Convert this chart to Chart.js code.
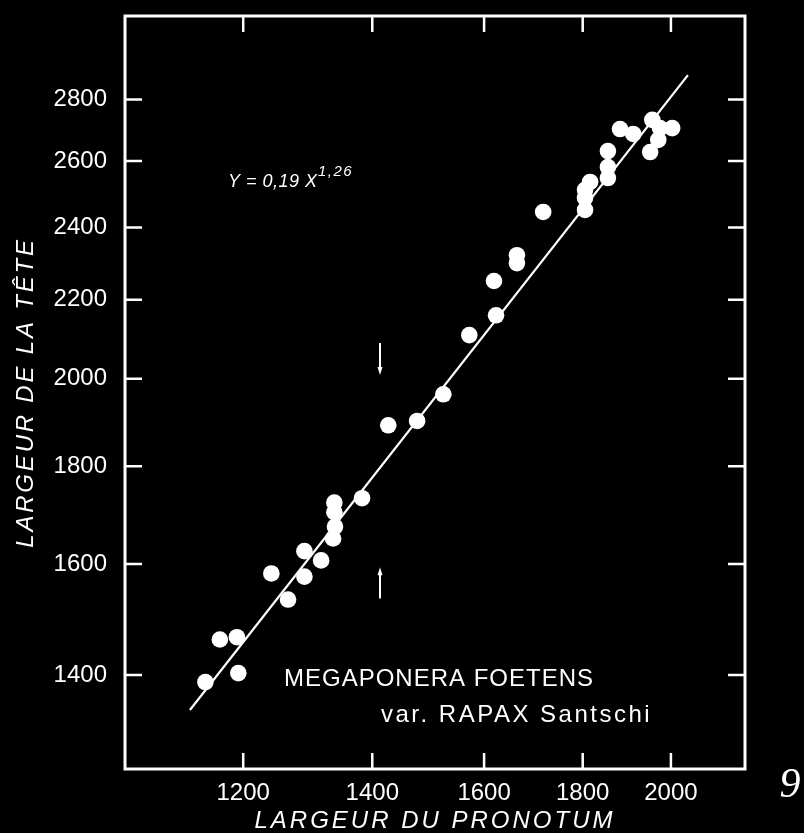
<!DOCTYPE html>
<html>
<head>
    <title>Megaponera foetens</title>
    <script src="https://cdn.jsdelivr.net/npm/chart.js"></script>
    <style>
        body { margin: 0; background: #000; }
        #wrap { position: relative; width: 804px; height: 833px; }
    </style>
</head>
<body>
    <div id="wrap"><canvas id="myChart"></canvas></div>
    <script>
        // largeur du pronotum (x) and largeur de la tete (y)
        const pronotum = [1147, 1167, 1191, 1193, 1266, 1241, 1291, 1317, 1291, 1336,
                          1339, 1338, 1338, 1383, 1427, 1477, 1524, 1572, 1623, 1619,
                          1664, 1664, 1717, 1805, 1805, 1805, 1816, 1855, 1855, 1855,
                          1882, 1912, 1956, 2003, 1970, 1951, 1974];
        const tete = [1388, 1461, 1465, 1403, 1533, 1582, 1576, 1607, 1625, 1650,
                      1674, 1703, 1723, 1732, 1891, 1901, 1963, 2108, 2159, 2250,
                      2299, 2321, 2445, 2451, 2487, 2511, 2535, 2547, 2581, 2631,
                      2702, 2686, 2732, 2705, 2667, 2628, 2705];

        // ends of the drawn regression line
        const fitX = [1126, 2041];
        const fitY = [1342, 2883];

        const xTicks = [1200, 1400, 1600, 1800, 2000];
        const yTicks = [1400, 1600, 1800, 2000, 2200, 2400, 2600, 2800];

        // the two little arrows
        const arrowX = 1413;
        const arrowDown = [2088, 2009];
        const arrowUp = [1535, 1594];

        const FONT = "'Liberation Sans', Arial, sans-serif";
        Chart.defaults.font.family = FONT;
        Chart.defaults.color = '#fff';

        function drawArrow(ctx, x, y0, y1) {
            const dir = y1 > y0 ? 1 : -1;
            ctx.beginPath();
            ctx.moveTo(x, y0);
            ctx.lineTo(x, y1 - dir * 6);
            ctx.stroke();
            ctx.beginPath();
            ctx.moveTo(x, y1);
            ctx.lineTo(x - 2.5, y1 - dir * 8);
            ctx.lineTo(x + 2.5, y1 - dir * 8);
            ctx.closePath();
            ctx.fill();
        }

        function spacedText(ctx, text, x, y, font, spacing, align) {
            ctx.font = font;
            ctx.letterSpacing = spacing + 'px';
            ctx.textAlign = align;
            ctx.textBaseline = 'middle';
            ctx.fillText(text, x, y);
            ctx.letterSpacing = '0px';
        }

        const framePlugin = {
            id: 'frame',
            beforeDraw(chart) {
                const ctx = chart.ctx;
                ctx.save();
                ctx.fillStyle = '#000';
                ctx.fillRect(0, 0, chart.width, chart.height);
                ctx.restore();
            },
            afterDraw(chart) {
                const ctx = chart.ctx;
                const a = chart.chartArea;
                const xs = chart.scales.x, ys = chart.scales.y;
                ctx.save();
                ctx.strokeStyle = '#fff';
                ctx.fillStyle = '#fff';

                ctx.lineWidth = 3;
                ctx.strokeRect(a.left, a.top, a.right - a.left, a.bottom - a.top);

                // inward ticks on all four sides
                ctx.lineWidth = 2.5;
                xTicks.forEach(v => {
                    const px = xs.getPixelForValue(v);
                    ctx.beginPath();
                    ctx.moveTo(px, a.bottom); ctx.lineTo(px, a.bottom - 16);
                    ctx.moveTo(px, a.top); ctx.lineTo(px, a.top + 16);
                    ctx.stroke();
                });
                yTicks.forEach(v => {
                    const py = ys.getPixelForValue(v);
                    ctx.beginPath();
                    ctx.moveTo(a.left, py); ctx.lineTo(a.left + 17, py);
                    ctx.moveTo(a.right, py); ctx.lineTo(a.right - 17, py);
                    ctx.stroke();
                });

                // arrows
                ctx.lineWidth = 2;
                const ax = xs.getPixelForValue(arrowX);
                drawArrow(ctx, ax, ys.getPixelForValue(arrowDown[0]), ys.getPixelForValue(arrowDown[1]));
                drawArrow(ctx, ax, ys.getPixelForValue(arrowUp[0]), ys.getPixelForValue(arrowUp[1]));

                // texts
                spacedText(ctx, 'Y = 0,19 X', 228, 182, 'italic 18px ' + FONT, 0.5, 'left');
                spacedText(ctx, '1,26', 318, 172, 'italic 15px ' + FONT, 1.5, 'left');
                spacedText(ctx, 'MEGAPONERA FOETENS', 284, 679, '24px ' + FONT, 1, 'left');
                spacedText(ctx, 'var. RAPAX Santschi', 381, 715, '24px ' + FONT, 2.5, 'left');

                spacedText(ctx, 'LARGEUR DU PRONOTUM', (a.left + a.right) / 2, 821, 'italic 24px ' + FONT, 3, 'center');
                ctx.save();
                ctx.translate(26, (a.top + a.bottom) / 2);
                ctx.rotate(-Math.PI / 2);
                spacedText(ctx, 'LARGEUR DE LA TÊTE', 0, 0, 'italic 24px ' + FONT, 2.8, 'center');
                ctx.restore();

                spacedText(ctx, '9', 790, 786, "italic 42px 'Liberation Serif', serif", 0, 'center');
                ctx.restore();
            }
        };

        const ctx = document.getElementById('myChart').getContext('2d');
        new Chart(ctx, {
            type: 'scatter',
            data: {
                datasets: [{
                    label: 'ajustement',
                    data: fitX.map((x, i) => ({ x: x, y: fitY[i] })),
                    showLine: true,
                    borderColor: '#fff',
                    borderWidth: 2.2,
                    pointRadius: 0
                }, {
                    label: 'individus',
                    data: pronotum.map((x, i) => ({ x: x, y: tete[i] })),
                    backgroundColor: '#fff',
                    borderColor: '#fff',
                    borderWidth: 0,
                    pointRadius: 8.3
                }]
            },
            options: {
                responsive: true,
                maintainAspectRatio: false,
                animation: false,
                layout: { padding: { top: 16, right: 59, bottom: 0, left: 0 } },
                plugins: { legend: { display: false }, tooltip: { enabled: false } },
                scales: {
                    x: {
                        type: 'logarithmic',
                        min: 1042,
                        max: 2185,
                        bounds: 'data',
                        grid: { display: false, drawTicks: false },
                        border: { display: false },
                        ticks: {
                            padding: 10,
                            autoSkip: false,
                            maxRotation: 0,
                            font: { size: 24 },
                            callback: v => String(v)
                        },
                        afterBuildTicks: s => { s.ticks = xTicks.map(v => ({ value: v })); },
                        afterFit: s => { s.height = 64; s.paddingLeft = 0; s.paddingRight = 0; }
                    },
                    y: {
                        type: 'logarithmic',
                        min: 1250,
                        max: 3096,
                        bounds: 'data',
                        grid: { display: false, drawTicks: false },
                        border: { display: false },
                        ticks: {
                            padding: 18,
                            autoSkip: false,
                            font: { size: 24 },
                            callback: v => String(v)
                        },
                        afterBuildTicks: s => { s.ticks = yTicks.map(v => ({ value: v })); },
                        afterFit: s => { s.width = 125; s.paddingTop = 0; s.paddingBottom = 0; }
                    }
                }
            },
            plugins: [framePlugin]
        });
    </script>
</body>
</html>
